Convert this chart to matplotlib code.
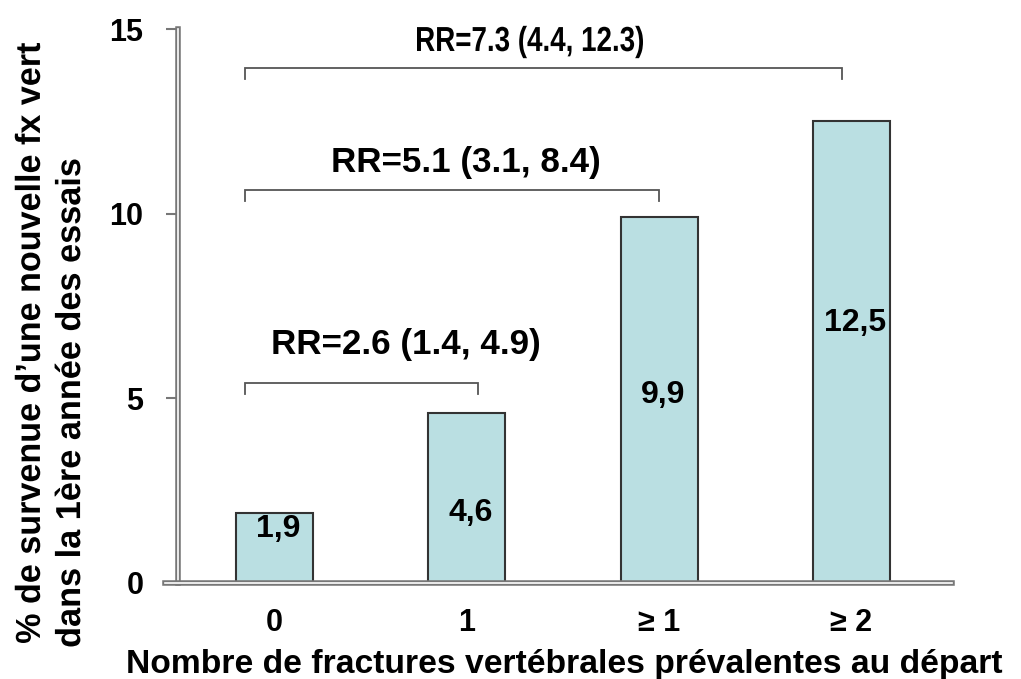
import matplotlib.pyplot as plt
import matplotlib.patheffects as pe
from matplotlib.textpath import TextPath
from matplotlib.patches import PathPatch
from matplotlib.font_manager import FontProperties
from matplotlib.transforms import Affine2D

# donnees
categories = ['0', '1', '\u2265 1', '\u2265 2']
valeurs = [1.9, 4.6, 9.9, 12.5]
etiquettes = ['1,9', '4,6', '9,9', '12,5']
# comparaisons (barre de debut, barre de fin, texte)
comparaisons = [(0, 1, 'RR=2.6 (1.4, 4.9)'),
                (0, 2, 'RR=5.1 (3.1, 8.4)'),
                (0, 3, 'RR=7.3 (4.4, 12.3)')]
titre_y = ['% de survenue d\u2019une nouvelle fx vert',
           'dans la 1\u00e8re ann\u00e9e des essais']
titre_x = 'Nombre de fractures vert\u00e9brales pr\u00e9valentes au d\u00e9part'

plt.rcParams['font.family'] = ['Liberation Sans', 'DejaVu Sans']
plt.rcParams['font.weight'] = 'bold'

W, H = 1021, 679
fig = plt.figure(figsize=(W / 100, H / 100), dpi=100)
ax = fig.add_axes([0.162, 0.1414, 0.77, 0.8156])

x = range(len(categories))
ax.bar(x, valeurs, width=0.4, color='#BADFE2', edgecolor='#333333', linewidth=1.5, zorder=2)

# position des etiquettes dans les barres
label_y = [1.45, 1.9, 5.1, 7.05]
for i, (lab, yy) in enumerate(zip(etiquettes, label_y)):
    ax.text(i + 0.02, yy, lab, ha='center', va='center', fontsize=23, fontweight='bold')


def texte_pixels(xc, yc, txt, size, longueur, rot=0):
    # texte dessine comme un chemin, etire/comprime a la longueur voulue (pixels)
    tp = TextPath((0, 0), txt, size=size, prop=FontProperties(family='Liberation Sans', weight='bold'))
    bb = tp.get_extents()
    k = 100 / 72
    sx = longueur / (bb.width * k)
    tr = (Affine2D().translate(-(bb.x0 + bb.x1) / 2, -(bb.y0 + bb.y1) / 2)
          .scale(sx * k, k).rotate_deg(rot).translate(xc, H - yc))
    fig.add_artist(PathPatch(tp, transform=tr, color='black', lw=0))


# accolades RR
bracket_y = [5.42, 10.65, 13.96]
text_dx = [0.23, 0.07, 0.0]
text_y = [6.45, 11.4, 14.65]
for (a, b, txt), by, dx, ty in zip(comparaisons, bracket_y, text_dx, text_y):
    x0 = a - 0.155
    x1 = b + (0.06 if b == 1 else (0.0 if b == 2 else -0.05))
    ax.plot([x0, x0, x1, x1], [by - 0.3, by, by, by - 0.3], color='#555555', lw=1.3,
            solid_joinstyle='miter', clip_on=False)
    if b == 3:
        texte_pixels(530, 42, txt, 25, 226)
    else:
        ax.text((x0 + x1) / 2 + dx, ty, txt, ha='center', va='center',
                fontsize=25.2, fontweight='bold')

ax.set_xlim(-0.567, 3.52)
ax.set_ylim(0, 15)
ax.set_yticks([0, 5, 10, 15])
ax.set_xticks(list(x))
ax.set_xticklabels(categories)
ax.tick_params(axis='x', length=0, pad=18, labelsize=22)
ax.tick_params(axis='y', length=9, width=1.5, color='#777777', labelsize=22, pad=16)

ax.spines['top'].set_visible(False)
ax.spines['right'].set_visible(False)
ax.spines['left'].set_position(('data', -0.5))
for s in ['left', 'bottom']:
    ax.spines[s].set_color('white')
    ax.spines[s].set_linewidth(1.2)
    ax.spines[s].set_path_effects([pe.Stroke(linewidth=4, foreground='#777777'), pe.Normal()])

# titres des axes
fig.text(564 / W, 6 / H, titre_x, ha='center', va='baseline', fontsize=24.2, fontweight='bold')
texte_pixels(27.5, 343, titre_y[0], 25, 600, rot=90)
texte_pixels(67.5, 403, titre_y[1], 25, 487, rot=90)

plt.savefig('out.png', dpi=100)
